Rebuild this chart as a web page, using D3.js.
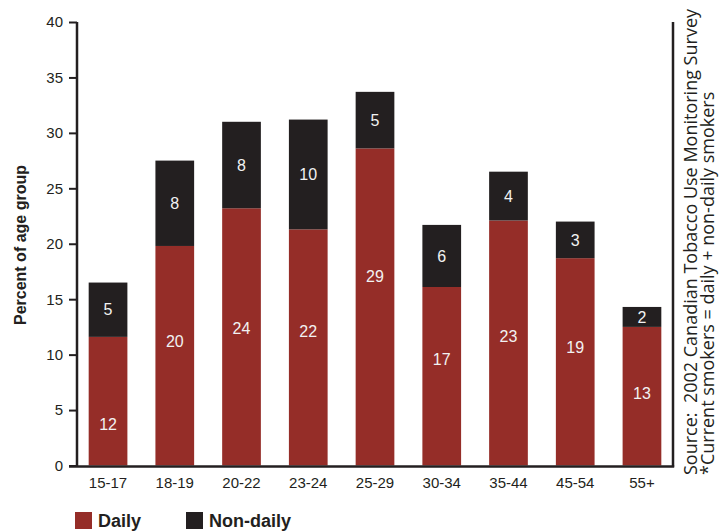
<!DOCTYPE html>
<html>
<head>
<meta charset="utf-8">
<script src="https://cdn.jsdelivr.net/npm/d3@7"></script>
<style>
  html, body { margin: 0; padding: 0; background: #fff; }
  svg { display: block; }
</style>
</head>
<body>
<svg id="chart" width="720" height="531"></svg>
<script>
// ---- data ----
const categories = ["15-17", "18-19", "20-22", "23-24", "25-29", "30-34", "35-44", "45-54", "55+"];
const daily      = [11.6, 19.8, 23.2, 21.3, 28.6, 16.1, 22.1, 18.7, 12.5];
const nonDaily   = [4.9, 7.7, 7.8, 9.9, 5.1, 5.6, 4.4, 3.3, 1.8];
const dailyLabels    = ["12", "20", "24", "22", "29", "17", "23", "19", "13"];
const nonDailyLabels = ["5", "8", "8", "10", "5", "6", "4", "3", "2"];
const yTicks = [0, 5, 10, 15, 20, 25, 30, 35, 40];
const seriesNames = ["Daily", "Non-daily"];
const yTitle = "Percent of age group";
const sourceText = "Source:  2002 Canadian Tobacco Use Monitoring Survey";
const noteText = "*Current smokers = daily + non-daily smokers";

// ---- layout (label anchors in percent units for the daily segments) ----
const dailyLabelAt = [3.7, 11.2, 12.4, 12.1, 17.1, 9.6, 11.7, 10.7, 6.5];
const colors = { "Daily": "#952d28", "Non-daily": "#231f20" };
const ink = "#231f20";

const svg = d3.select("#chart");
const x = d3.scaleBand().domain(categories).range([77, 673]).paddingInner(0.42).paddingOuter(0.175);
const y = d3.scaleLinear().domain([0, 40]).range([465.5, 22]);

const rows = categories.map((c, i) => ({ cat: c, Daily: daily[i], "Non-daily": nonDaily[i] }));
const stack = d3.stack().keys(seriesNames)(rows);

// bars
svg.append("g").selectAll("g").data(stack).join("g")
  .attr("fill", d => colors[d.key])
  .selectAll("rect").data(d => d).join("rect")
  .attr("x", d => x(d.data.cat))
  .attr("width", x.bandwidth())
  .attr("y", d => y(d[1]))
  .attr("height", d => y(d[0]) - y(d[1]));

// value labels
const lbl = svg.append("g").attr("fill", "#f2f2f2")
  .attr("font-family", "Liberation Sans, Arial, sans-serif").attr("font-size", 16)
  .attr("text-anchor", "middle");
categories.forEach((c, i) => {
  lbl.append("text").attr("x", x(c) + x.bandwidth() / 2).attr("y", y(dailyLabelAt[i]))
    .attr("dy", "0.36em").text(dailyLabels[i]);
  lbl.append("text").attr("x", x(c) + x.bandwidth() / 2).attr("y", y(daily[i] + nonDaily[i] / 2))
    .attr("dy", "0.36em").text(nonDailyLabels[i]);
});

// y axis
const yAxis = svg.append("g").attr("transform", "translate(77,0)")
  .call(d3.axisLeft(y).tickValues(yTicks).tickSize(8).tickPadding(6).tickFormat(d3.format("d")));
yAxis.select(".domain").remove();
yAxis.selectAll(".tick line").attr("stroke", ink).attr("stroke-width", 2);
yAxis.selectAll(".tick text").attr("fill", ink)
  .attr("font-family", "Liberation Sans, Arial, sans-serif").attr("font-size", 15);

// frame lines (left, bottom, right)
const frame = svg.append("g").attr("stroke", ink).attr("stroke-width", 2.5).attr("fill", "none");
frame.append("line").attr("x1", 77).attr("x2", 77).attr("y1", y(40)).attr("y2", y(0) + 1.2);
frame.append("line").attr("x1", 673).attr("x2", 673).attr("y1", y(40)).attr("y2", y(0) + 1.2);
frame.append("line").attr("x1", 69).attr("x2", 674.2).attr("y1", y(0) + 1).attr("y2", y(0) + 1);

// x labels
const xAxis = svg.append("g").attr("transform", `translate(0,${y(0) + 1})`)
  .call(d3.axisBottom(x).tickSize(0).tickPadding(11));
xAxis.select(".domain").remove();
xAxis.selectAll(".tick text").attr("fill", ink)
  .attr("font-family", "Liberation Sans, Arial, sans-serif").attr("font-size", 15);

// y title
svg.append("text").attr("transform", "translate(26,245) rotate(-90)")
  .attr("text-anchor", "middle").attr("fill", ink)
  .attr("font-family", "Liberation Sans, Arial, sans-serif").attr("font-weight", "bold")
  .attr("font-size", 16).text(yTitle);

// legend
const legX = [75, 186];
seriesNames.forEach((s, i) => {
  svg.append("rect").attr("x", legX[i]).attr("y", 512).attr("width", 17).attr("height", 17).attr("fill", colors[s]);
  svg.append("text").attr("x", legX[i] + 23).attr("y", 527).attr("fill", ink)
    .attr("font-family", "Liberation Sans, Arial, sans-serif").attr("font-weight", "bold")
    .attr("font-size", 18).text(s);
});

// source notes (rotated)
svg.append("text").attr("transform", "translate(697,475) rotate(-90)")
  .attr("fill", ink).attr("font-family", "Open Sans, Noto Sans, sans-serif").attr("font-size", 18)
  .attr("xml:space", "preserve").style("white-space", "pre").text(sourceText);
svg.append("text").attr("transform", "translate(714,475) rotate(-90)")
  .attr("fill", ink).attr("font-family", "Open Sans, Noto Sans, sans-serif").attr("font-size", 18)
  .text(noteText);
</script>
</body>
</html>
